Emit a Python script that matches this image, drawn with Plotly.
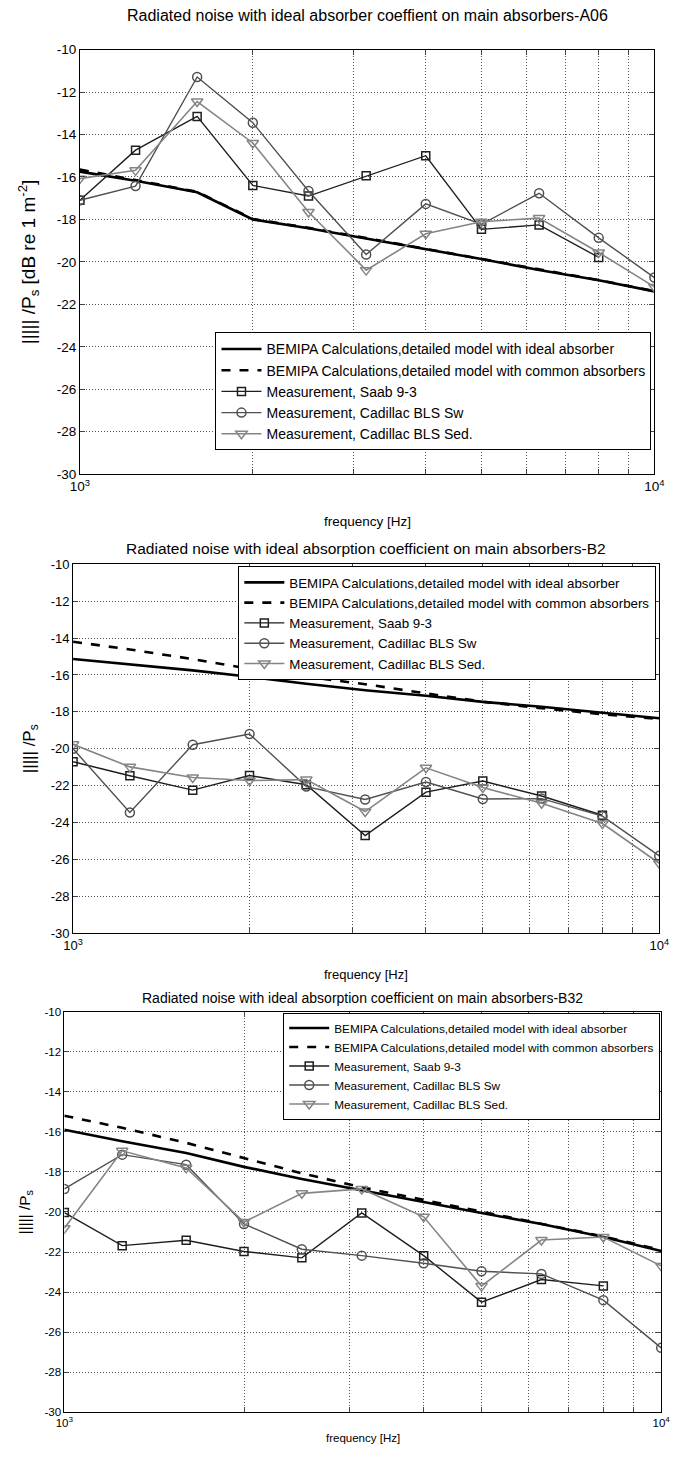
import plotly.graph_objects as go

freq = [1000, 1250, 1600, 2000, 2500, 3150, 4000, 5000, 6300, 8000, 10000]
freq_saab = freq[:10]

series_names = [
    "BEMIPA Calculations,detailed model with ideal absorber",
    "BEMIPA Calculations,detailed model with common absorbers",
    "Measurement, Saab 9-3",
    "Measurement, Cadillac BLS Sw",
    "Measurement, Cadillac BLS Sed.",
]

titles = [
    "Radiated noise with ideal absorber coeffient on main absorbers-A06",
    "Radiated noise with ideal absorption coefficient on main absorbers-B2",
    "Radiated noise with ideal absorption coefficient on main absorbers-B32",
]
ylabels = [
    "||||| /P<sub>s</sub> [dB re 1 m<sup>-2</sup>]",
    "||||| /P<sub>s</sub>",
    "||||| /P<sub>s</sub>",
]
xlabel = "frequency [Hz]"

# Panel A06
a06_ideal = [-15.75, -16.18, -16.72, -18.0, -18.42, -18.9, -19.4, -19.87, -20.38, -20.87, -21.39]
a06_common = [-15.65, -16.15, -16.7, -17.98, -18.4, -18.88, -19.38, -19.85, -20.36, -20.86, -21.38]
a06_saab = [-17.1, -14.74, -13.15, -16.4, -16.9, -15.95, -15.0, -18.47, -18.26, -19.79]
a06_sw = [-17.1, -16.43, -11.29, -13.45, -16.66, -19.65, -17.27, -18.23, -16.77, -18.87, -20.74]
a06_sed = [-16.08, -15.69, -12.45, -14.4, -17.65, -20.39, -18.68, -18.11, -17.94, -19.56, -21.18]

# Panel B2
b2_ideal = [-15.14, -15.43, -15.75, -16.1, -16.48, -16.83, -17.13, -17.46, -17.72, -18.05, -18.35]
b2_common = [-14.2, -14.62, -15.14, -15.67, -16.1, -16.5, -17.0, -17.45, -17.8, -18.13, -18.38]
b2_saab = [-20.7, -21.46, -22.24, -21.45, -21.95, -24.7, -22.35, -21.75, -22.56, -23.6]
b2_sw = [-20.0, -23.45, -19.78, -19.2, -22.05, -22.75, -21.8, -22.72, -22.7, -23.65, -25.8]
b2_sed = [-19.76, -20.98, -21.56, -21.72, -21.67, -23.4, -21.03, -22.1, -22.95, -24.05, -26.2]

# Panel B32
b32_ideal = [-15.9, -16.47, -17.06, -17.75, -18.35, -18.93, -19.5, -20.05, -20.6, -21.25, -21.95]
b32_common = [-15.2, -15.8, -16.55, -17.3, -18.07, -18.77, -19.4, -20.0, -20.58, -21.22, -21.9]
b32_saab = [-20.03, -21.68, -21.41, -21.97, -22.29, -20.05, -22.18, -24.5, -23.37, -23.69]
b32_sw = [-18.85, -17.14, -17.64, -20.6, -21.86, -22.18, -22.56, -22.96, -23.09, -24.4, -26.78]
b32_sed = [-20.81, -16.95, -17.8, -20.5, -19.07, -18.85, -20.24, -23.7, -21.4, -21.25, -22.69]

panels = [
    (a06_ideal, a06_common, a06_saab, a06_sw, a06_sed),
    (b2_ideal, b2_common, b2_saab, b2_sw, b2_sed),
    (b32_ideal, b32_common, b32_saab, b32_sw, b32_sed),
]

y_ticks = list(range(-30, -9, 2))
y_ticktext = [str(v) for v in y_ticks]
x_ticks = list(range(1000, 10001, 1000))
x_ticktext = ["10<sup>3</sup>"] + [""] * 8 + ["10<sup>4</sup>"]

W, H = 677, 1457
# layout in pixels: (left, right, top, bottom)
boxes = [(72, 664, 43, 472), (65, 669, 563, 936), (56, 671, 1015, 1420)]
title_y = [9, 547, 1001]
xlab_y = [520, 978, 1446]
ylab_x = [19, 21, 16]
fs_main = [13.5, 13, 11.5]
fs_ylab = [19, 17, 15.5]
fs_title = [16, 15.5, 14]
fs_leg = [14, 13.3, 11.8]
legend_pos = [(661, 448, "bottom"), (666, 565, "top"), (670, 1016, "top")]

c_saab = "#1e1e1e"
c_sw = "#505050"
c_sed = "#858585"
FONT = "Liberation Sans, Arial, sans-serif"

fig = go.Figure()
for i, (ideal, common, saab, sw, sed) in enumerate(panels):
    xa = "x" if i == 0 else f"x{i+1}"
    ya = "y" if i == 0 else f"y{i+1}"
    lg = "legend" if i == 0 else f"legend{i+1}"
    common_kw = dict(xaxis=xa, yaxis=ya, legend=lg)
    fig.add_trace(go.Scatter(x=freq, y=ideal, mode="lines", name=series_names[0],
                             line=dict(color="black", width=2.6), **common_kw))
    fig.add_trace(go.Scatter(x=freq, y=common, mode="lines", name=series_names[1],
                             line=dict(color="black", width=2.6, dash="dash"), **common_kw))
    fig.add_trace(go.Scatter(x=freq_saab, y=saab, mode="lines+markers", name=series_names[2],
                             line=dict(color=c_saab, width=1.4),
                             marker=dict(symbol="square-open", size=8, color=c_saab, line=dict(width=1.5)),
                             **common_kw))
    fig.add_trace(go.Scatter(x=freq, y=sw, mode="lines+markers", name=series_names[3],
                             line=dict(color=c_sw, width=1.4),
                             marker=dict(symbol="circle-open", size=9, color=c_sw, line=dict(width=1.5)),
                             **common_kw))
    fig.add_trace(go.Scatter(x=freq, y=sed, mode="lines+markers", name=series_names[4],
                             line=dict(color=c_sed, width=1.6),
                             marker=dict(symbol="triangle-down-open", size=10, color=c_sed, line=dict(width=1.5)),
                             **common_kw))

layout = dict(width=W, height=H, margin=dict(l=0, r=0, t=0, b=0),
              paper_bgcolor="white", plot_bgcolor="white", showlegend=True,
              font=dict(family=FONT, color="black"))
annotations = []
for i, (l, r, t, b) in enumerate(boxes):
    xk = "xaxis" if i == 0 else f"xaxis{i+1}"
    yk = "yaxis" if i == 0 else f"yaxis{i+1}"
    ya = "y" if i == 0 else f"y{i+1}"
    xa = "x" if i == 0 else f"x{i+1}"
    layout[xk] = dict(type="log", range=[3, 4], domain=[l / W, r / W], anchor=ya,
                      tickvals=x_ticks, ticktext=x_ticktext, ticks="inside", ticklen=5,
                      showgrid=True, gridcolor="#555", griddash="1px,2px", gridwidth=1,
                      showline=True, linecolor="black", linewidth=1, mirror="ticks",
                      tickfont=dict(size=fs_main[i], family=FONT), zeroline=False)
    layout[yk] = dict(range=[-30, -10], domain=[1 - b / H, 1 - t / H], anchor=xa,
                      tickvals=y_ticks, ticktext=y_ticktext, ticks="inside", ticklen=5,
                      showgrid=True, gridcolor="#555", griddash="1px,2px", gridwidth=1,
                      showline=True, linecolor="black", linewidth=1, mirror="ticks",
                      tickfont=dict(size=fs_main[i], family=FONT), zeroline=False)
    lk = "legend" if i == 0 else f"legend{i+1}"
    lx, ly, anc = legend_pos[i]
    layout[lk] = dict(x=lx / W, y=1 - ly / H, xref="paper", yref="paper",
                      xanchor="right", yanchor=anc, bgcolor="white",
                      bordercolor="black", borderwidth=1, itemwidth=40,
                      tracegroupgap=0, font=dict(size=fs_leg[i], family=FONT))
    cx = (l + r) / 2 / W
    annotations.append(dict(text=titles[i], x=cx, y=1 - title_y[i] / H, xref="paper", yref="paper",
                            showarrow=False, xanchor="center", yanchor="middle",
                            font=dict(size=fs_title[i], family=FONT)))
    annotations.append(dict(text=xlabel, x=cx, y=1 - xlab_y[i] / H, xref="paper", yref="paper",
                            showarrow=False, xanchor="center", yanchor="middle",
                            font=dict(size=fs_main[i], family=FONT)))
    annotations.append(dict(text=ylabels[i], x=ylab_x[i] / W, y=1 - (t + b) / 2 / H,
                            xref="paper", yref="paper", showarrow=False, textangle=-90,
                            xanchor="center", yanchor="middle",
                            font=dict(size=fs_ylab[i], family=FONT)))
layout["annotations"] = annotations
fig.update_layout(**layout)
fig.write_html("out.html")
